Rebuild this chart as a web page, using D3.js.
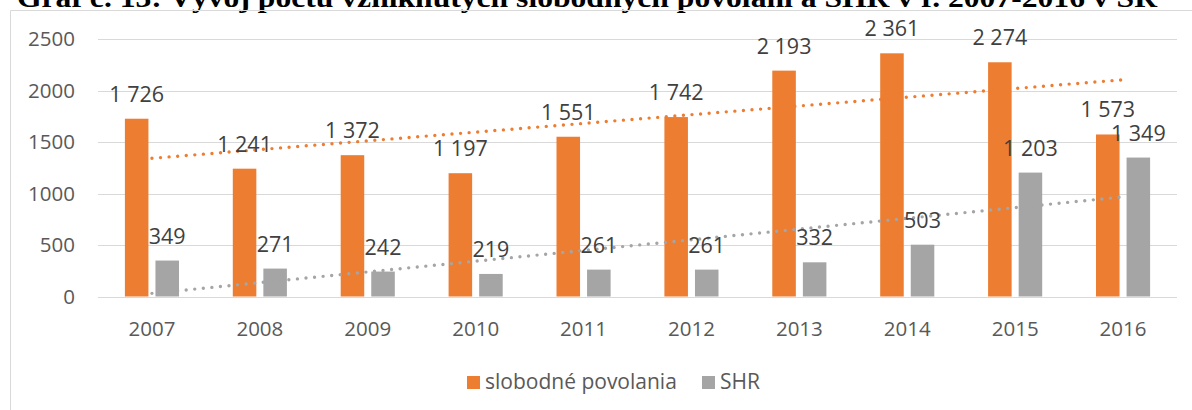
<!DOCTYPE html>
<html lang="sk">
<head>
<meta charset="utf-8">
<title>Graf č. 13</title>
<script src="https://d3js.org/d3.v7.min.js"></script>
<style>
  body { margin: 0; background: #fff; }
  svg { display: block; font-family: "Open Sans", sans-serif; }
  .grid line { stroke: #d9d9d9; stroke-width: 1; shape-rendering: crispEdges; }
  .tick-label { fill: #595959; font-size: 20.5px; }
  .legend-label { fill: #595959; font-size: 21px; }
  .data-label { fill: #404040; font-size: 21.5px; }
</style>
</head>
<body>
<div id="chart"></div>
<script>
// data
var years = ["2007", "2008", "2009", "2010", "2011", "2012", "2013", "2014", "2015", "2016"];
var seriesNames = ["slobodné povolania", "SHR"];
var slobodne = [1726, 1241, 1372, 1197, 1551, 1742, 2193, 2361, 2274, 1573];
var shr = [349, 271, 242, 219, 261, 261, 332, 503, 1203, 1349];
var yTicks = [0, 500, 1000, 1500, 2000, 2500];
var colors = ["#ED7D31", "#A5A5A5"];
var title = "Graf č. 13: Vývoj počtu vzniknutých slobodných povolaní a SHR v r. 2007-2016 v SR";

(function() {
  var W = 1192, H = 410;
  var plotLeft = 98, plotRight = 1177, plotTop = 39, plotBottom = 296.5;

  var svg = d3.select("#chart").append("svg")
      .attr("width", W)
      .attr("height", H);

  // title, cropped at the top like in the source
  svg.append("text")
      .attr("x", 17)
      .attr("y", 7)
      .attr("textLength", 1140)
      .attr("lengthAdjust", "spacingAndGlyphs")
      .style("font-family", "'Liberation Serif', 'Times New Roman', serif")
      .style("font-weight", "bold")
      .style("font-size", "28px")
      .style("fill", "#000")
      .text(title);

  // chart frame (only top and left edge are visible)
  svg.append("path")
      .attr("d", "M10.5," + H + "V10.5H" + W)
      .attr("fill", "none")
      .attr("stroke", "#d9d9d9")
      .attr("stroke-width", 1);

  var x0 = d3.scaleBand().domain(years).range([plotLeft, plotRight]).padding(0);
  var x1 = d3.scaleBand().domain(seriesNames).range([0, x0.bandwidth()])
      .paddingInner(0.23).paddingOuter(0.88);
  var y = d3.scaleLinear().domain([0, 2500]).range([plotBottom, plotTop]);

  // gridlines
  var grid = svg.append("g").attr("class", "grid");
  grid.selectAll("line").data(yTicks).enter().append("line")
      .attr("x1", plotLeft).attr("x2", plotRight)
      .attr("y1", function(d) { return Math.round(y(d)) + 0.5; })
      .attr("y2", function(d) { return Math.round(y(d)) + 0.5; });

  // y axis labels
  var yAxis = d3.axisLeft(y).tickValues(yTicks).tickSize(0).tickPadding(0)
      .tickFormat(function(d) { return d; });
  var gy = svg.append("g").attr("transform", "translate(75,0)").call(yAxis);
  gy.select(".domain").remove();
  gy.selectAll("text").attr("class", "tick-label").attr("fill", null)
      .style("font-family", "'Open Sans', sans-serif").style("font-size", "20.5px");

  // x axis labels
  var xAxis = d3.axisBottom(x0).tickSize(0).tickPadding(0);
  var gx = svg.append("g").attr("transform", "translate(0,321)").call(xAxis);
  gx.select(".domain").remove();
  gx.selectAll("text").attr("class", "tick-label").attr("fill", null)
      .style("font-family", "'Open Sans', sans-serif").style("font-size", "20.5px");

  var allSeries = [slobodne, shr];
  var fmt = function(v) { return d3.format(",")(v).replace(/,/g, " "); };

  // bars
  allSeries.forEach(function(vals, s) {
    svg.append("g").selectAll("rect").data(vals).enter().append("rect")
        .attr("x", function(d, i) { return x0(years[i]) + x1(seriesNames[s]); })
        .attr("width", x1.bandwidth())
        .attr("y", function(d) { return y(d); })
        .attr("height", function(d) { return plotBottom - y(d); })
        .attr("fill", colors[s]);
  });

  // linear trendlines
  allSeries.forEach(function(vals, s) {
    var n = vals.length;
    var mx = d3.mean(vals, function(d, i) { return i; });
    var my = d3.mean(vals);
    var num = d3.sum(vals, function(d, i) { return (i - mx) * (d - my); });
    var den = d3.sum(vals, function(d, i) { return (i - mx) * (i - mx); });
    var slope = num / den, icpt = my - slope * mx;
    var cx = function(i) { return x0(years[i]) + x0.bandwidth() / 2; };
    svg.append("line")
        .attr("x1", cx(0)).attr("y1", y(icpt))
        .attr("x2", cx(n - 1)).attr("y2", y(icpt + slope * (n - 1)))
        .attr("stroke", colors[s])
        .attr("stroke-width", 3.4)
        .attr("stroke-linecap", "round")
        .attr("stroke-dasharray", "0 8.6");
  });

  // data labels
  allSeries.forEach(function(vals, s) {
    svg.append("g").selectAll("text").data(vals).enter().append("text")
        .attr("class", "data-label")
        .attr("text-anchor", "middle")
        .attr("x", function(d, i) { return x0(years[i]) + x1(seriesNames[s]) + x1.bandwidth() / 2; })
        .attr("y", function(d) { return y(d) - 17; })
        .text(function(d) { return fmt(d); });
  });

  // legend
  var legend = svg.append("g");
  var legendX = [467, 702];
  seriesNames.forEach(function(name, s) {
    legend.append("rect")
        .attr("x", legendX[s]).attr("y", 376)
        .attr("width", 13).attr("height", 13)
        .attr("fill", colors[s]);
    legend.append("text")
        .attr("class", "legend-label")
        .attr("x", legendX[s] + 18).attr("y", 389)
        .text(name);
  });
})();
</script>
</body>
</html>
